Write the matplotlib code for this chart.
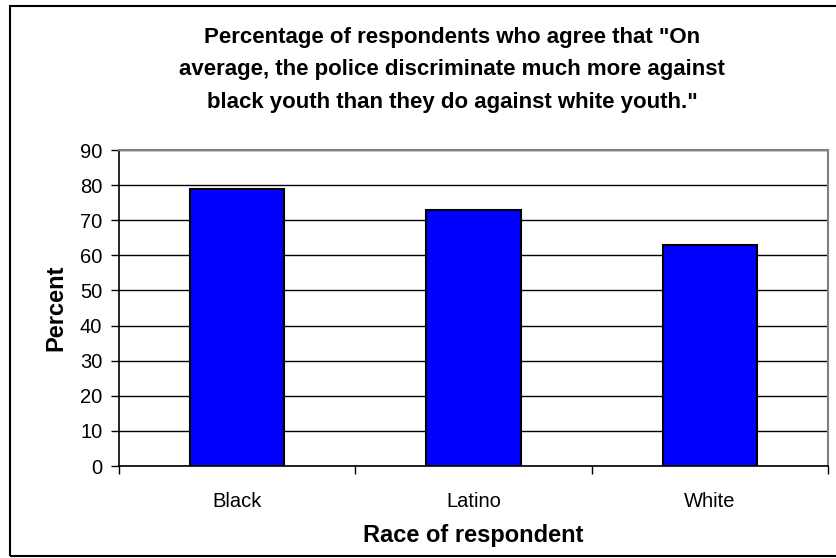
import numpy as np
import matplotlib.pyplot as plt
from matplotlib.patches import Rectangle

plt.rcParams["font.family"] = ["Liberation Sans", "DejaVu Sans"]

races = ["Black", "Latino", "White"]
percent = [79, 73, 63]
yticks = [0, 10, 20, 30, 40, 50, 60, 70, 80, 90]

fig = plt.figure(figsize=(8.36, 5.58), dpi=100)
ax = fig.add_axes([119 / 836, 92 / 558, 709 / 836, 316 / 558])

# outer chart border
fig.patches.append(Rectangle((10 / 836, 2 / 558), 1.0, 550 / 558,
                             transform=fig.transFigure, fill=False,
                             edgecolor="black", linewidth=1.5))

x = np.arange(len(races))
ax.bar(x, percent, width=0.4, color="#0000FF", edgecolor="black", linewidth=1.5, zorder=3)

ax.set_xlim(-0.5, len(races) - 0.5)
ax.set_ylim(0, 90)
ax.set_yticks(yticks)
ax.set_axisbelow(True)
ax.yaxis.grid(True, color="black", linewidth=1)

# category ticks sit between the bars
ax.set_xticks(np.arange(-0.5, len(races)), minor=False)
ax.set_xticklabels([])
ax.set_xticks(x, minor=True)
ax.set_xticklabels(races, minor=True, fontsize=14.5)
ax.tick_params(axis="x", which="major", direction="out", length=6, width=1)
ax.tick_params(axis="x", which="minor", length=0, pad=19)
ax.tick_params(axis="y", direction="out", length=6, width=1, labelsize=14.5, pad=6)

for side in ["top", "right"]:
    ax.spines[side].set_color("#808080")
    ax.spines[side].set_linewidth(1.5)
for side in ["left", "bottom"]:
    ax.spines[side].set_color("black")
    ax.spines[side].set_linewidth(1.2)

ax.set_ylabel("Percent", fontsize=17, fontweight="bold", labelpad=9)
ax.set_xlabel("Race of respondent", fontsize=17, fontweight="bold", labelpad=9)

fig.text(452 / 836, 0.952,
         'Percentage of respondents who agree that "On\n'
         'average, the police discriminate much more against\n'
         'black youth than they do against white youth."',
         ha="center", va="top", fontsize=16, fontweight="bold", linespacing=1.72)

fig.savefig("out.png", dpi=100)
